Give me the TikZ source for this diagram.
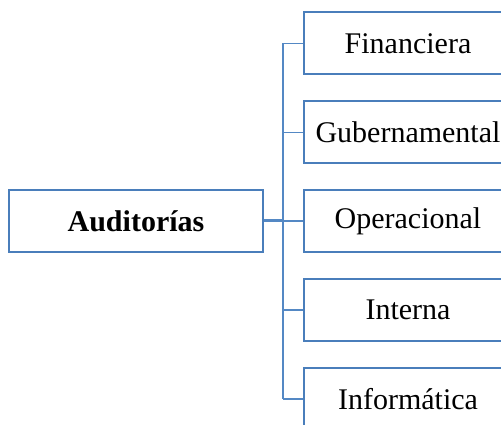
\documentclass[tikz,border=0pt]{standalone}
\usepackage{fontspec}
\setmainfont{Liberation Serif}
\definecolor{boxblue}{RGB}{74,126,187}
\definecolor{lineblue}{RGB}{84,136,196}
\begin{document}
\begin{tikzpicture}[x=1pt,y=1pt,
  box/.style={draw=boxblue,line width=2pt,fill=white,minimum height=62pt,inner sep=0pt,font=\fontsize{30}{36}\selectfont},
  leaf/.style={box,minimum width=208pt},
  conn/.style={draw=lineblue,line width=1.6pt}]
\useasboundingbox (0,0) rectangle (501,425);
\clip (0,0) rectangle (501,425);
\node[box,minimum width=254pt] (aud) at (136,204) {\textbf{Auditorías}};
\node[leaf] (fin) at (408,381.5) {Financiera};
\node[leaf] (gub) at (408,292.5) {Gubernamental};
\node[leaf] (ope) at (408,204) {Operacional};
\node[leaf] (int) at (408,115) {Interna};
\node[leaf] (inf) at (408,26) {Informática};
\coordinate (hub) at (283,204);
\coordinate (top) at (283,381.5);
\coordinate (bot) at (283,26);
\draw[conn,line width=3pt] (aud.east) -- (hub);
\draw[conn] (top) -- (bot);
\foreach \n in {fin,gub,ope,int,inf}{
  \draw[conn] (hub |- \n.west) -- (\n.west);
}
\end{tikzpicture}
\end{document}
